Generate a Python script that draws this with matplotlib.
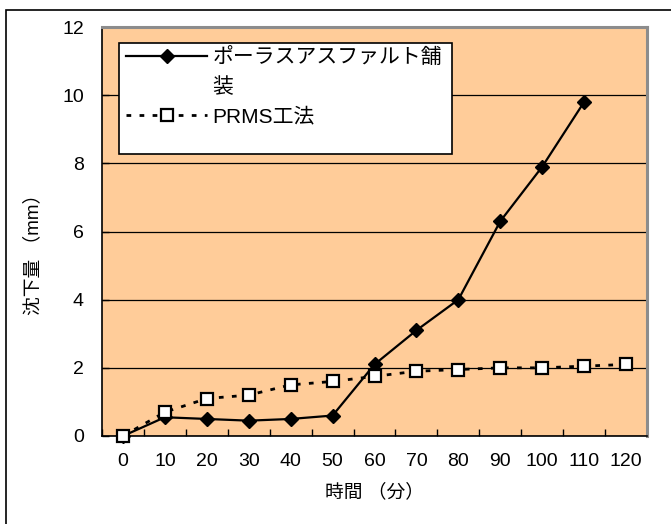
import matplotlib
matplotlib.use("Agg")
import matplotlib.pyplot as plt
from matplotlib.lines import Line2D
from matplotlib.patches import Rectangle
from matplotlib.ticker import FixedLocator, NullFormatter, FixedFormatter

plt.rcParams['font.family'] = ['Liberation Sans', 'Noto Sans CJK JP', 'DejaVu Sans']

# elapsed time (minutes) used as category labels
time_labels = ['0', '10', '20', '30', '40', '50', '60', '70', '80', '90', '100', '110', '120']
# settlement (mm)
porous_asphalt = [0, 0.55, 0.5, 0.45, 0.5, 0.6, 2.1, 3.1, 4.0, 6.3, 7.9, 9.8]
prms = [0, 0.7, 1.1, 1.2, 1.5, 1.6, 1.75, 1.9, 1.95, 2.0, 2.0, 2.05, 2.1]

name_porous = 'ポーラスアスファルト舗'
name_porous_cont = '装'
name_prms = 'PRMS工法'
y_title = '沈下量 （mm）'
x_title = '時間 （分）'

W, H = 671, 524
fig = plt.figure(figsize=(W / 100, H / 100), dpi=100)
fig.patch.set_facecolor('white')

# chart-area frame (right and bottom edges run past the canvas)
fig.patches.append(Rectangle((5.5 / W, -0.1), 1.2, 1.1 - 10.5 / H,
                             transform=fig.transFigure, fill=False,
                             edgecolor='black', linewidth=1.2, zorder=0))

left, right, top, bottom = 102, 647, 27, 436
pw, ph = right - left, bottom - top
ax = fig.add_axes([left / W, 1 - bottom / H, pw / W, ph / H])
ax.set_facecolor('#FFCC99')

dash = (0, (1.7, 3.0))
style1 = dict(color='black', linewidth=1.6, marker='D', markersize=7.2,
              markerfacecolor='black', markeredgecolor='black')
style2 = dict(color='black', linewidth=2.0, linestyle=dash, marker='s',
              markersize=9.0, markerfacecolor='white', markeredgecolor='black',
              markeredgewidth=1.6)

x1 = list(range(len(porous_asphalt)))
x2 = list(range(len(prms)))
ax.plot(x1, porous_asphalt, zorder=3, clip_on=False, **style1)
ax.plot(x2, prms, zorder=4, clip_on=False, **style2)

ax.set_xlim(-0.5, len(time_labels) - 0.5)
ax.set_ylim(0, 12)

# category boundaries carry the tick marks, category centres carry the labels
ax.xaxis.set_major_locator(FixedLocator([i - 0.5 for i in range(len(time_labels) + 1)]))
ax.xaxis.set_major_formatter(NullFormatter())
ax.xaxis.set_minor_locator(FixedLocator(list(range(len(time_labels)))))
ax.xaxis.set_minor_formatter(FixedFormatter(time_labels))
ax.tick_params(axis='x', which='major', direction='in', length=5, width=1, color='black')
ax.tick_params(axis='x', which='minor', length=0, pad=12.5, labelsize=14)

ax.set_yticks(range(0, 13, 2))
ax.tick_params(axis='y', direction='in', length=5, width=1, pad=13, labelsize=14)

ax.yaxis.grid(True, color='black', linewidth=0.9)
ax.set_axisbelow(True)

for side in ('left', 'bottom'):
    ax.spines[side].set_color('black')
    ax.spines[side].set_linewidth(1.2)
for side in ('top', 'right'):
    ax.spines[side].set_color('#8C8C8C')
    ax.spines[side].set_linewidth(2.2)

ax.set_xlabel(x_title, fontsize=13.5, labelpad=9)
ax.set_ylabel(y_title, fontsize=13.5)
ax.yaxis.set_label_coords((42 - left) / pw, (bottom - 250) / ph)

# legend box
bx0, by0, bx1, by1 = 119, 43, 452, 154
ax.add_patch(Rectangle(((bx0 - left) / pw, (bottom - by1) / ph),
                       (bx1 - bx0) / pw, (by1 - by0) / ph,
                       transform=ax.transAxes, facecolor='white', edgecolor='black',
                       linewidth=1.2, zorder=5))

h1 = Line2D([], [], **style1)
h_blank = Line2D([], [], color='none')
h2 = Line2D([], [], **style2)
leg = ax.legend([h1, h_blank, h2], [name_porous, name_porous_cont, name_prms],
                loc='upper left',
                bbox_to_anchor=((bx0 - left + 7) / pw, (bottom - by0 - 4) / ph),
                frameon=False, fontsize=15, handlelength=3.9, handletextpad=0.24,
                labelspacing=0.5, borderpad=0.0, borderaxespad=0.0)
leg.set_zorder(6)

fig.savefig('out.png', dpi=100)
